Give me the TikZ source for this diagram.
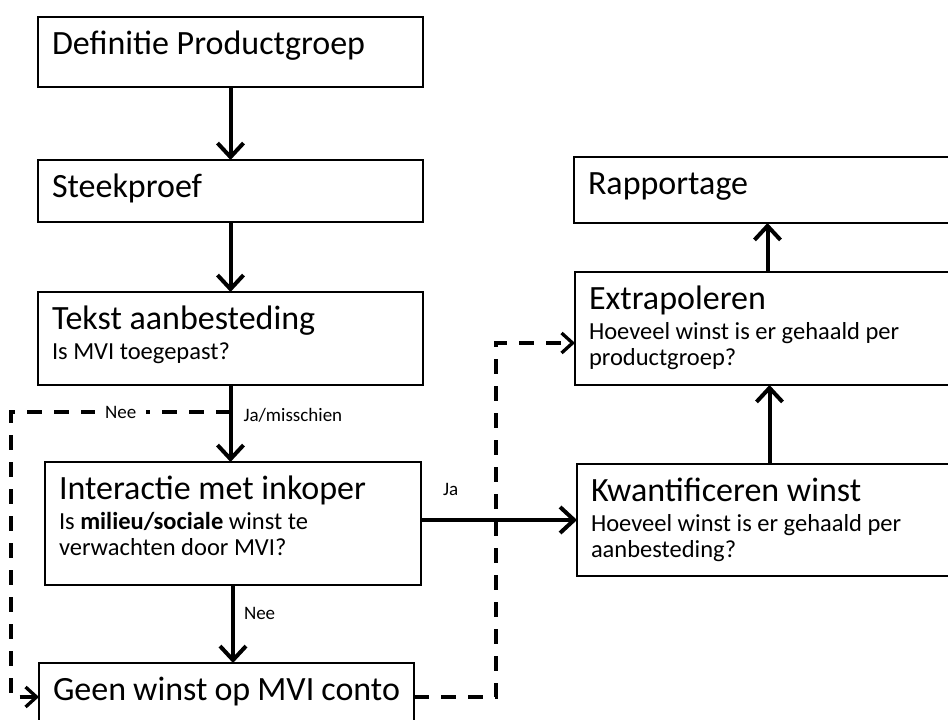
\documentclass[tikz,border=0pt]{standalone}
\usepackage{fontspec}
\setmainfont{Carlito}
\usetikzlibrary{positioning,arrows.meta}

\newcommand{\titlefont}{\fontsize{34}{37}\selectfont}
\newcommand{\subfont}{\fontsize{24.5}{26}\selectfont}

\tikzset{
  stepbox/.style={draw, line width=2.6pt, rectangle, anchor=north west,
    inner xsep=14pt, inner ysep=0pt, outer sep=0pt, text width=357pt,
    align=flush left, text height=38pt, font=\subfont},
  flow/.style={line width=4pt, -{Straight Barb[length=14pt,width=26pt]}},
  dashconn/.style={line width=3.3pt, dash pattern=on 15pt off 12pt,
    -{Straight Barb[length=11pt,width=20pt]}},
  lbl/.style={font=\fontsize{19}{21}\selectfont, inner sep=3pt}
}

\begin{document}
\begin{tikzpicture}[x=1pt,y=1pt]
\useasboundingbox (0,0) rectangle (948,720);
\clip (0,0) rectangle (948,720);

%% left column
\node[stepbox, text depth=32pt](def) at (38,703){{\titlefont Definitie Productgroep}};
\node[stepbox, text depth=24pt, below=73pt of def](steek){{\titlefont Steekproef}};
\node[stepbox, text depth=55pt, below=70pt of steek](tekst){{\titlefont Tekst aanbesteding}\\[4pt]
Is MVI toegepast?};
\node[stepbox, text depth=85pt, text width=348pt, below=77pt of tekst, xshift=2.5pt](inter){{\titlefont Interactie met inkoper}\\[4pt]
Is \textbf{milieu/sociale} winst te\\verwachten door MVI?};
\node[stepbox, text depth=30pt, text width=347pt, below=78pt of inter, xshift=-6.5pt](geen){{\titlefont Geen winst op MVI conto}};

%% right column
\node[stepbox, text depth=28pt](rapp) at (574,563){{\titlefont Rapportage}};
\node[stepbox, text depth=75pt, below=49pt of rapp, xshift=1pt](extrap){{\titlefont Extrapoleren}\\[4pt]
Hoeveel winst is er gehaald per\\productgroep?};
\node[stepbox, text depth=74pt, below=79pt of extrap, xshift=2pt](kwant){{\titlefont Kwantificeren winst}\\[4pt]
Hoeveel winst is er gehaald per\\aanbesteding?};

\draw[flow] (def) -- (steek);
\draw[flow] (steek) -- (tekst);
\draw[flow] (tekst.south) -- node[lbl, anchor=west, xshift=8pt, pos=0.4]{Ja/misschien} (tekst.south |- inter.north);
\draw[flow] (inter.east |- kwant.west) -- node[lbl, above=19pt, pos=0.19]{Ja} (kwant.west);
\draw[flow] (inter.south) -- node[lbl, anchor=west, xshift=6pt, pos=0.37]{Nee} (inter.south |- geen.north);
\draw[flow] (kwant.north) -- (kwant.north |- extrap.south);
\draw[flow] (extrap.north) -- (extrap.north |- rapp.south);

% dashed paths
\coordinate (neebend) at (11,308);
\coordinate (neesplit) at (tekst.south |- neebend);
\coordinate (jabend) at (496,377);
\draw[dashconn] (neesplit) -- node[lbl, fill=white, inner xsep=10pt]{Nee} (neebend) |- (geen.west);
\draw[dashconn] (geen.east) -| (jabend) -- (jabend -| extrap.west);

\end{tikzpicture}
\end{document}
